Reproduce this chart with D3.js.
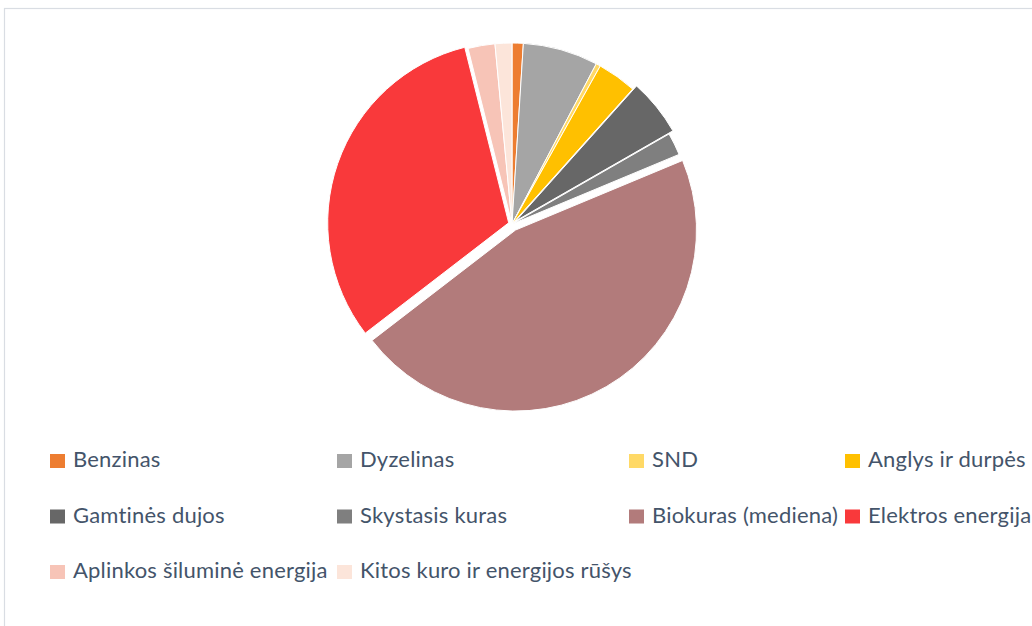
<!DOCTYPE html>
<html><head><meta charset="utf-8">
<script src="https://cdn.jsdelivr.net/npm/d3@7"></script>
<style>body{margin:0;background:#fff}svg{display:block}</style>
</head><body><svg id="c" width="1032" height="626"></svg>
<script>
const categories = ["Benzinas","Dyzelinas","SND","Anglys ir durpės","Gamtinės dujos","Skystasis kuras","Biokuras (mediena)","Elektros energija","Aplinkos šiluminė energija","Kitos kuro ir energijos rūšys"];
const values = [1.0, 6.7, 0.4, 3.5, 5.1, 2.0, 45.8, 31.5, 2.4, 1.5];
const colors = ["#ED7D31","#A5A5A5","#FFD966","#FFC000","#676767","#7F7F7F","#B27B7B","#F9393B","#F7C4B7","#FCE5DA"];
const explode = [0,0,0,0,5,0,7,3.5,0,0];

const svg = d3.select("#c");
svg.append("rect").attr("x",4.5).attr("y",8.5).attr("width",1040).attr("height",640)
  .attr("fill","#fff").attr("stroke","#D9DDE3").attr("stroke-width",1.2);

const cx = 512, cy = 224, R = 181;
const data = categories.map((c,i)=>({name:c, value:values[i], color:colors[i], ex:explode[i]}));
const pie = d3.pie().sort(null).value(d=>d.value);
const arc = d3.arc().innerRadius(0).outerRadius(R);
const g = svg.append("g").attr("transform",`translate(${cx},${cy})`);
g.selectAll("path").data(pie(data)).join("path")
  .attr("d",arc)
  .attr("fill",d=>d.data.color)
  .attr("stroke","#fff").attr("stroke-width",1)
  .attr("transform",d=>{const m=(d.startAngle+d.endAngle)/2;return `translate(${Math.sin(m)*d.data.ex},${-Math.cos(m)*d.data.ex})`;});

// legend
const colX = [50, 337, 629, 845];
const rowBase = [467, 522.5, 578];
const lg = svg.append("g");
data.forEach((d,i)=>{
  const x = colX[i%4], y = rowBase[Math.floor(i/4)];
  lg.append("rect").attr("x",x).attr("y",y-13).attr("width",15).attr("height",14).attr("fill",d.color);
  lg.append("text").attr("x",x+23).attr("y",y)
    .attr("font-family","Lato, 'Open Sans', sans-serif").attr("font-size",22).attr("letter-spacing",0.2)
    .attr("fill","#44546A").text(d.name);
});
</script></body></html>
